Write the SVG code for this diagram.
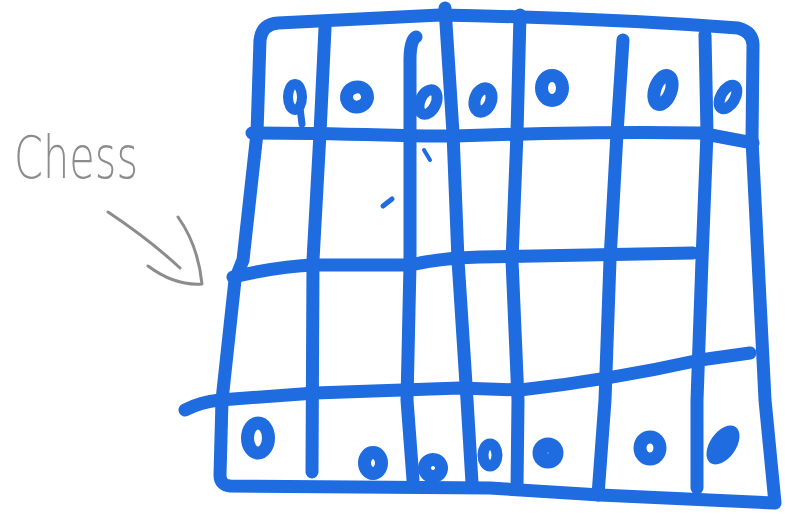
<svg xmlns="http://www.w3.org/2000/svg" width="785" height="514" viewBox="0 0 785 514">
<style>
.ln{fill:none;stroke:#1f6be0;stroke-width:13;stroke-linecap:round;stroke-linejoin:round}
.pc{fill:none;stroke:#1f6be0;stroke-width:13}
.gr{fill:none;stroke:#8c8c8c;stroke-width:3;stroke-linecap:round;stroke-linejoin:round}
.lbl{font-family:"DejaVu Sans","Liberation Sans",sans-serif;font-size:58px;font-weight:200;fill:#8c8c8c}
</style>
<rect width="785" height="514" fill="#ffffff"/>
<g id="label">
<text class="lbl" x="14" y="178" textLength="124" lengthAdjust="spacingAndGlyphs">Chess</text>
</g>
<g id="arrow">
<path class="gr" d="M108,212 Q150,240 180,268"/>
<path class="gr" d="M148,266 Q175,286 202,284 Q198,245 178,217"/>
</g>
<g id="board">
<path class="ln" d="M257,133 L260,40 Q262,24 278,23 L440,15 Q600,18 738,28 Q753,32 753,45 L752,140 L758,260 L765,400 L775,503 L600,495 L490,488 L230,486 Q220,485 220,475 L222,400 L235,280 L243,260 Z"/>
<path class="ln" d="M252,133 C350,133 420,137 453,136 S600,131 700,133 L753,143"/>
<path class="ln" d="M233,277 Q280,266 315,265 L410,265 Q440,258 480,257 L693,253"/>
<path class="ln" d="M185,410 Q200,402 220,400 L315,393 L460,388 L520,390 Q610,380 700,360 L750,353"/>
<path class="ln" d="M325,28 L320,133 L313,260 L312,472"/>
<path class="ln" d="M416,37 Q410,40 410,60 L410,265 L407,400 L413,480"/>
<path class="ln" d="M445,8 L453,133 L458,260 L467,400 L472,483"/>
<path class="ln" d="M520,15 L517,133 L512,260 L518,400 L517,488"/>
<path class="ln" d="M623,40 L617,133 L610,260 L605,400 L598,495"/>
<path class="ln" d="M705,35 L707,133 L702,260 L697,400 L697,488"/>
<path class="ln" d="M383,206 L392,199" style="stroke-width:5"/>
<path class="ln" d="M424,150 L430,160" style="stroke-width:4"/>
</g>
<g id="top-pieces">
<ellipse class="pc" cx="295" cy="97" rx="7" ry="13" style="stroke-width:10"/>
<path class="ln" d="M300,108 L302,124" style="stroke-width:7"/>
<ellipse class="pc" cx="357" cy="97" rx="10.5" ry="10" transform="rotate(-20 357 97)"/>
<ellipse class="pc" cx="428" cy="102" rx="8" ry="13" transform="rotate(25 428 102)" style="stroke-width:11"/>
<ellipse class="pc" cx="483" cy="100" rx="8" ry="12" transform="rotate(20 483 100)" style="stroke-width:12"/>
<ellipse class="pc" cx="552" cy="88" rx="10.5" ry="12.5"/>
<ellipse class="pc" cx="663" cy="90" rx="8" ry="15" transform="rotate(20 663 90)"/>
<ellipse class="pc" cx="728" cy="97" rx="7" ry="13" transform="rotate(30 728 97)" style="stroke-width:11"/>
</g>
<g id="bottom-pieces">
<ellipse class="pc" cx="258" cy="438" rx="10.5" ry="15"/>
<ellipse class="pc" cx="373" cy="463" rx="8.5" ry="10.5"/>
<ellipse class="pc" cx="433" cy="468" rx="8.5" ry="8.5" transform="rotate(-30 433 468)"/>
<ellipse class="pc" cx="490" cy="455" rx="7" ry="11" style="stroke-width:11"/>
<ellipse class="pc" cx="548" cy="453" rx="8" ry="8" style="stroke-width:15"/>
<ellipse class="pc" cx="650" cy="448" rx="10" ry="11"/>
<ellipse cx="723" cy="445" rx="13" ry="22" transform="rotate(35 723 445)" fill="#1f6be0"/>
</g>
</svg>
